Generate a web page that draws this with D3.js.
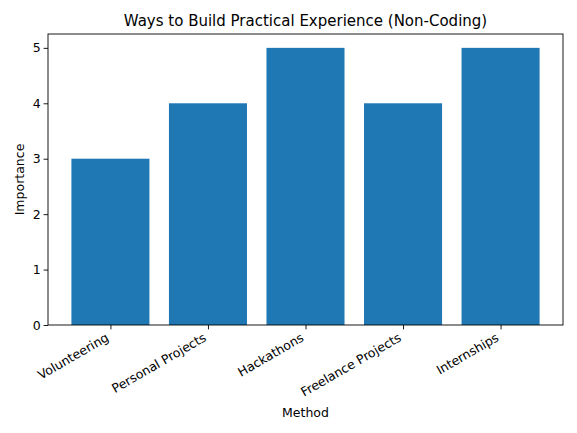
<!DOCTYPE html>
<html>
<head>
<meta charset="utf-8" />
<title>Ways to Build Practical Experience (Non-Coding)</title>
<style>
body { margin: 0; background: #fff; }
svg text { font-family: "DejaVu Sans", sans-serif; }
.axis path, .axis line { stroke: #000; stroke-width: 0.9; }
</style>
</head>
<body>
<div id="graph"></div>
<script src="https://cdnjs.cloudflare.com/ajax/libs/d3/7.8.5/d3.min.js"></script>
<script>
!(function(){
    "use strict"

    var methods = ["Volunteering", "Personal Projects", "Hackathons", "Freelance Projects", "Internships"]
    var importance = [3, 4, 5, 4, 5]
    var yTicks = [0, 1, 2, 3, 4, 5]

    var width = 577, height = 433
    var margin = {top: 34, left: 48, bottom: 108, right: 14}
    var chartWidth = width - margin.left - margin.right
    var chartHeight = height - margin.top - margin.bottom

    var svg = d3.select("#graph").append("svg")
        .attr("width", width).attr("height", height)

    var chartLayer = svg.append("g")
        .attr("transform", "translate(" + [margin.left, margin.top] + ")")

    // matplotlib-like linear x: bars at 0..n-1, width 0.8, 5% margins
    var n = methods.length
    var lo = -0.4, hi = n - 1 + 0.4, pad = (hi - lo) * 0.05
    var xScale = d3.scaleLinear().domain([lo - pad, hi + pad]).range([0, chartWidth])
    var yScale = d3.scaleLinear().domain([0, 5.25]).range([chartHeight, 0])

    chartLayer.selectAll(".bar").data(methods)
        .enter().append("rect").classed("bar", true)
        .attr("x", function(d, i){ return xScale(i - 0.4) })
        .attr("width", function(d, i){ return xScale(i + 0.4) - xScale(i - 0.4) })
        .attr("y", function(d, i){ return yScale(importance[i]) })
        .attr("height", function(d, i){ return chartHeight - yScale(importance[i]) })
        .attr("fill", "#1f77b4")

    var yAxis = d3.axisLeft(yScale).tickValues(yTicks).tickFormat(d3.format("d"))
        .tickSizeInner(4.4).tickSizeOuter(0).tickPadding(3)
    chartLayer.append("g").attr("class", "axis y").call(yAxis)
        .attr("font-size", 12.5).attr("font-family", null)
        .call(function(g){ g.select(".domain").remove() })

    var xAxis = d3.axisBottom(xScale).tickValues(d3.range(n))
        .tickFormat(function(i){ return methods[i] })
        .tickSizeInner(4.4).tickSizeOuter(0)
    var gx = chartLayer.append("g").attr("class", "axis x")
        .attr("transform", "translate(0," + chartHeight + ")")
        .call(xAxis)
        .attr("font-size", 12.5).attr("font-family", null)
    gx.select(".domain").remove()
    gx.selectAll("text")
        .attr("y", 0).attr("dy", "0.75em")
        .attr("text-anchor", "end")
        .attr("transform", "translate(-6,7) rotate(-30)")

    // frame
    chartLayer.append("rect")
        .attr("width", chartWidth).attr("height", chartHeight)
        .attr("fill", "none").attr("stroke", "#000").attr("stroke-width", 0.9)

    svg.append("text")
        .attr("x", margin.left + chartWidth / 2).attr("y", 26)
        .attr("text-anchor", "middle").attr("font-size", 15)
        .text("Ways to Build Practical Experience (Non-Coding)")

    svg.append("text")
        .attr("x", margin.left + chartWidth / 2).attr("y", 417)
        .attr("text-anchor", "middle").attr("font-size", 12.5)
        .text("Method")

    svg.append("text")
        .attr("transform", "translate(24," + (margin.top + chartHeight / 2) + ") rotate(-90)")
        .attr("text-anchor", "middle").attr("font-size", 12.5)
        .text("Importance")
}());
</script>
</body>
</html>
